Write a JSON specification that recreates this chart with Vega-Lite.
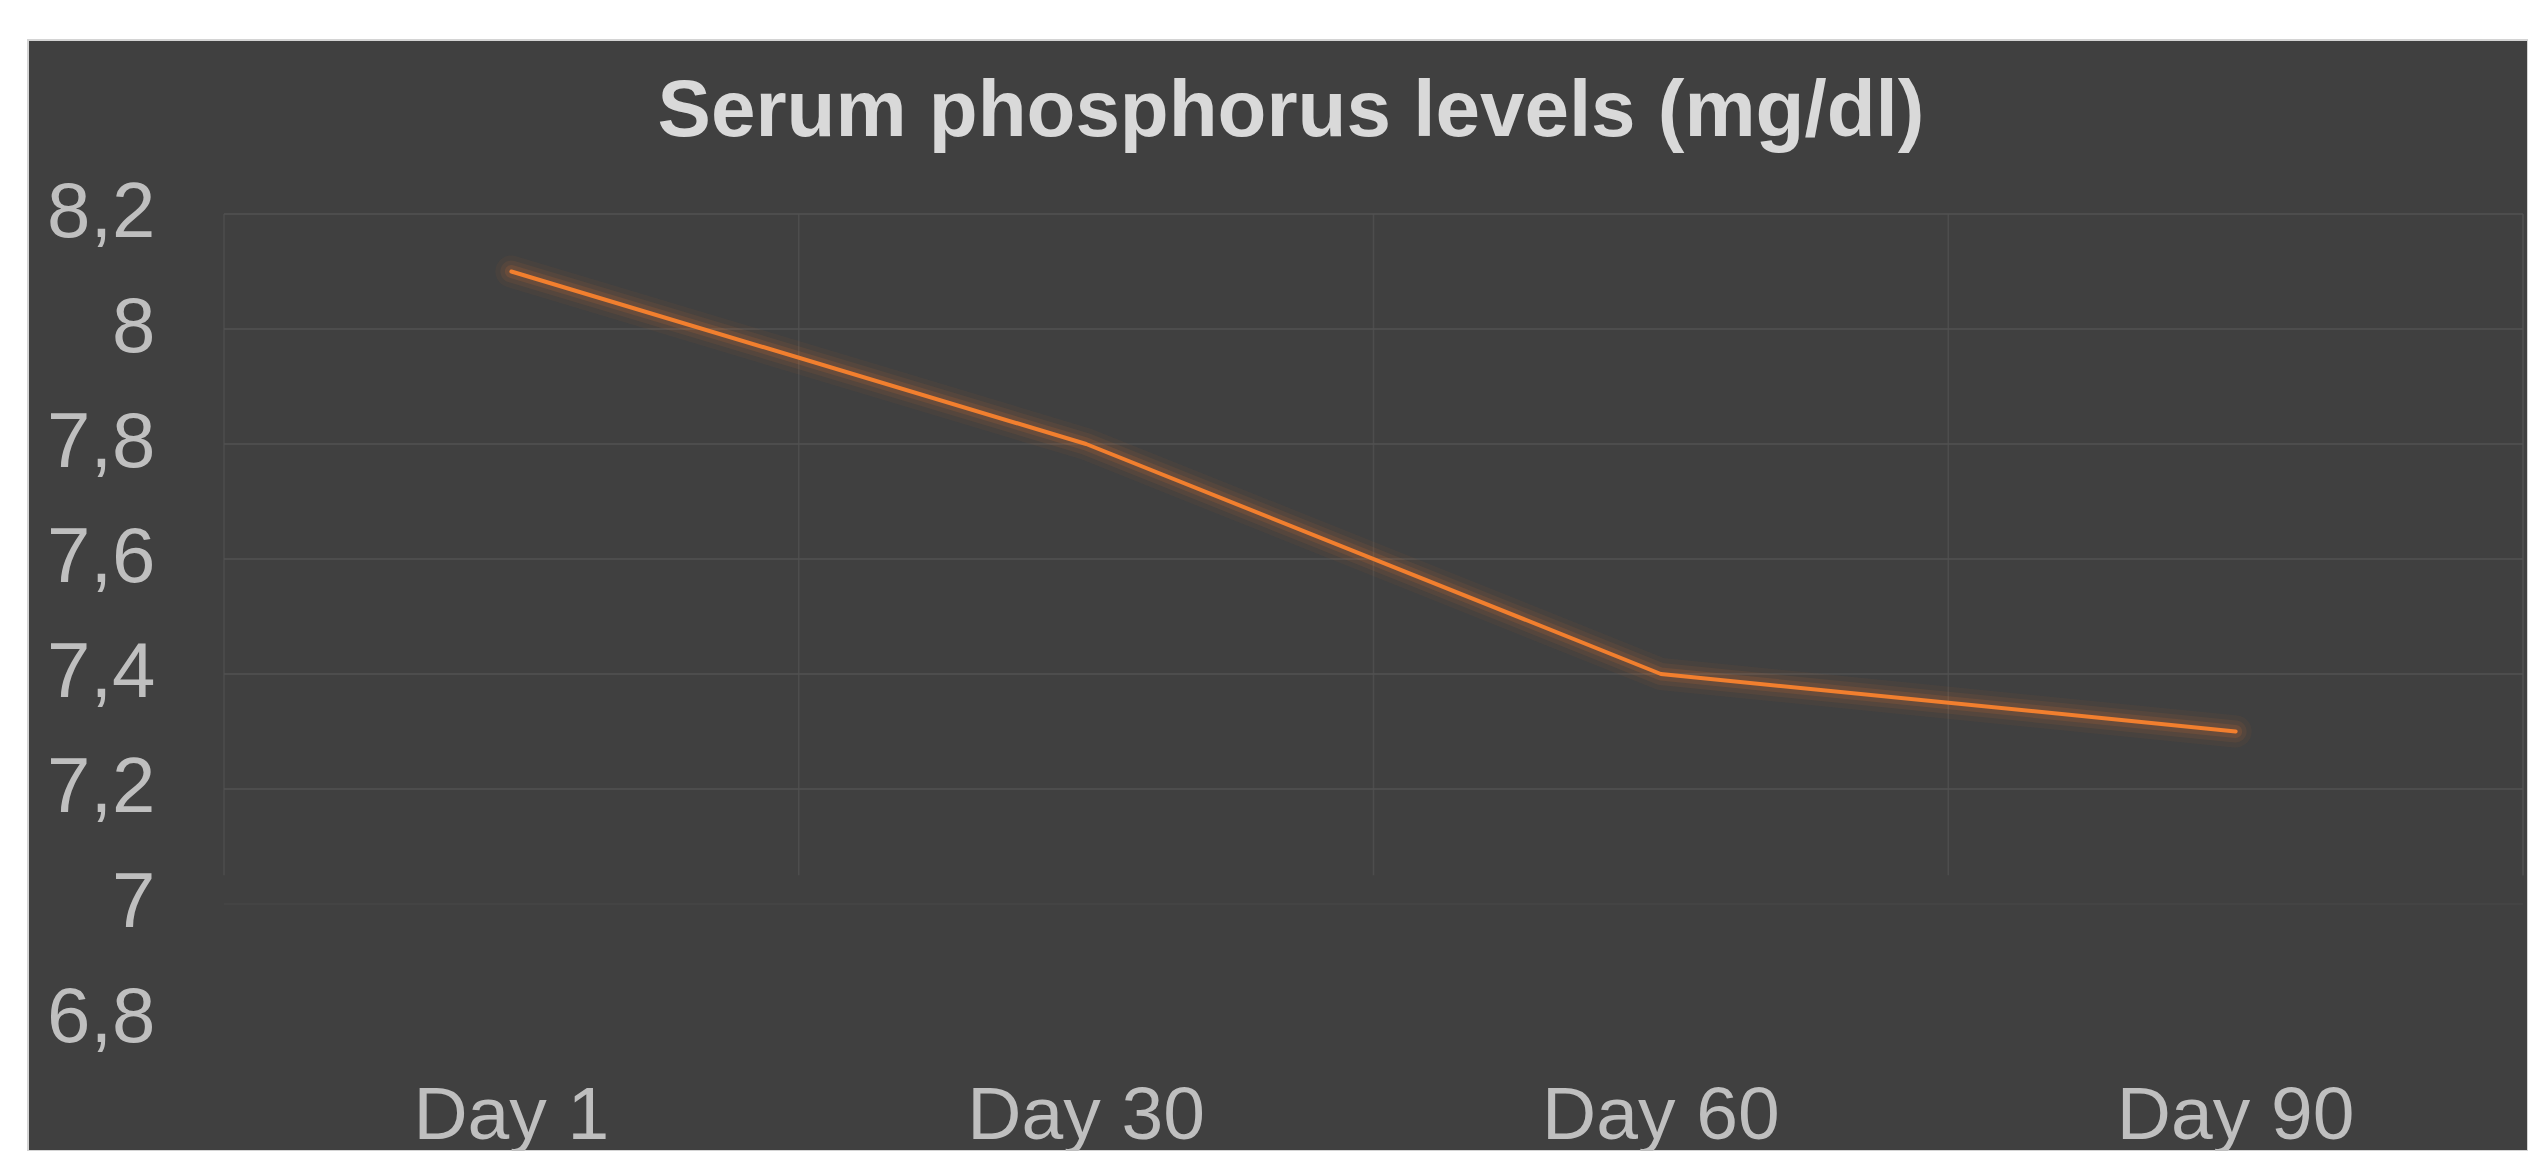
{
  "$schema": "https://vega.github.io/schema/vega-lite/v6.json",
  "width": 2500,
  "height": 1111,
  "autosize": {"type": "none"},
  "padding": {"left": 28, "top": 40, "right": 0, "bottom": 0},
  "background": "white",
  "config": {
    "view": {"fill": "#404040", "stroke": "#d4d4d4", "strokeWidth": 2},
    "font": "Liberation Sans",
    "axis": {"title": null}
  },
  "title": {
    "text": "Serum phosphorus levels (mg/dl)",
    "anchor": "middle",
    "frame": "group",
    "baseline": "alphabetic",
    "offset": -97,
    "dx": 13,
    "dy": 79,
    "font": "Liberation Sans",
    "fontSize": 80,
    "fontWeight": "bold",
    "color": "#d9d9d9"
  },
  "datasets": {
    "series": [
      {"day": "Day 1", "value": 8.1},
      {"day": "Day 30", "value": 7.8},
      {"day": "Day 60", "value": 7.4},
      {"day": "Day 90", "value": 7.3}
    ],
    "grid": [
      {"level": 8.2},
      {"level": 8.0},
      {"level": 7.8},
      {"level": 7.6},
      {"level": 7.4},
      {"level": 7.2}
    ]
  },
  "data": {"name": "series"},
  "layer": [
    {
      "mark": {"type": "rule", "color": "#4d4d4d", "strokeWidth": 1.5},
      "encoding": {
        "x": {
          "field": "day", "type": "nominal", "bandPosition": 0, "sort": null, "title": null,
          "scale": {"type": "band", "range": [196, 2495], "paddingInner": 0, "paddingOuter": 0},
          "axis": {
            "title": null,
            "orient": "bottom", "offset": -13, "domain": false, "ticks": false, "tickSize": 0, "grid": false,
            "labelPadding": 0, "labelBaseline": "alphabetic", "labelAngle": 0, "labelLimit": 0,
            "labelFont": "Liberation Sans", "labelFontSize": 75, "labelColor": "#bfbfbf"
          }
        },
        "y": {
          "datum": 8.2, "type": "quantitative", "title": null,
          "scale": {"domain": [6.5704, 8.5026], "nice": false, "zero": false},
          "axis": {
            "title": null,
            "orient": "left", "offset": -127, "domain": false, "ticks": false, "tickSize": 0, "grid": false,
            "values": [6.8, 7.0, 7.2, 7.4, 7.6, 7.8, 8.0, 8.2],
            "labelExpr": "replace(format(datum.value, '.1~f'), '.', ',')",
            "labelPadding": 0, "labelAlign": "right", "labelBaseline": "middle", "labelLimit": 0,
            "labelFont": "Liberation Sans", "labelFontSize": 78, "labelColor": "#bfbfbf"
          }
        },
        "y2": {"datum": 7.05}
      }
    },
    {
      "mark": {"type": "rule", "color": "#4d4d4d", "strokeWidth": 1.5},
      "encoding": {
        "x": {"datum": "Day 90", "type": "nominal", "bandPosition": 1, "title": null},
        "y": {"datum": 8.2, "type": "quantitative", "title": null},
        "y2": {"datum": 7.05}
      }
    },
    {
      "mark": {"type": "rule", "color": "#444444", "strokeWidth": 1.5},
      "encoding": {
        "x": {"datum": "Day 1", "type": "nominal", "bandPosition": 0, "title": null},
        "x2": {"datum": "Day 90", "bandPosition": 1},
        "y": {"datum": 7.0, "type": "quantitative", "title": null}
      }
    },
    {
      "data": {"name": "grid"},
      "mark": {"type": "rule", "color": "#525252", "strokeWidth": 1.5},
      "encoding": {
        "x": {"datum": "Day 1", "type": "nominal", "bandPosition": 0, "title": null},
        "x2": {"datum": "Day 90", "bandPosition": 1},
        "y": {"field": "level", "type": "quantitative", "title": null}
      }
    },
    {
      "mark": {"type": "line", "color": "#ED7D31", "strokeWidth": 32, "opacity": 0.05, "strokeCap": "round", "strokeJoin": "round"},
      "encoding": {
        "x": {"field": "day", "type": "nominal", "sort": null, "title": null},
        "y": {"field": "value", "type": "quantitative", "title": null}
      }
    },
    {
      "mark": {"type": "line", "color": "#ED7D31", "strokeWidth": 22, "opacity": 0.08, "strokeCap": "round", "strokeJoin": "round"},
      "encoding": {
        "x": {"field": "day", "type": "nominal", "sort": null, "title": null},
        "y": {"field": "value", "type": "quantitative", "title": null}
      }
    },
    {
      "mark": {"type": "line", "color": "#ED7D31", "strokeWidth": 13, "opacity": 0.13, "strokeCap": "round", "strokeJoin": "round"},
      "encoding": {
        "x": {"field": "day", "type": "nominal", "sort": null, "title": null},
        "y": {"field": "value", "type": "quantitative", "title": null}
      }
    },
    {
      "mark": {"type": "line", "color": "#F27F2E", "strokeWidth": 4, "strokeCap": "round", "strokeJoin": "round"},
      "encoding": {
        "x": {"field": "day", "type": "nominal", "sort": null, "title": null},
        "y": {"field": "value", "type": "quantitative", "title": null}
      }
    }
  ]
}
